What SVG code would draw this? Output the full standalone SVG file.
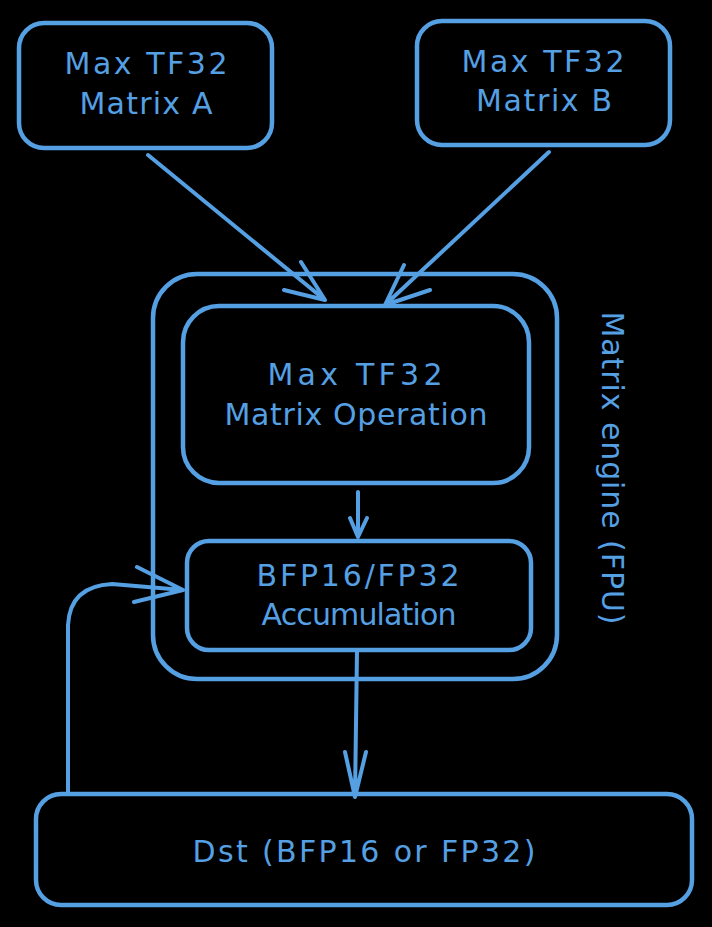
<svg xmlns="http://www.w3.org/2000/svg" width="712" height="927" viewBox="0 0 712 927">
<style>
.box{fill:none;stroke:#559fe3;stroke-width:4.5;stroke-linejoin:round}
.ln{fill:none;stroke:#559fe3;stroke-width:4;stroke-linecap:round;stroke-linejoin:round}
.t{font-family:"DejaVu Sans","Noto Sans",sans-serif;font-size:30px;fill:#559fe3;text-anchor:middle}
</style>
<rect width="712" height="927" fill="#000"/>
<g id="connectors">
<path class="ln" d="M148 155 L325 300 M284 290 L325 300 L301 262" stroke-width="5"/>
<path class="ln" d="M549 152 L385 305 M404 265 L385 305 L430 290"/>
<path class="ln" d="M358 492 L358 537 M350 518 L358 537 L367 518" stroke-width="3"/>
<path class="ln" d="M357 651 L355 797 M345 752 L355 797 L366 752" stroke-width="3.5"/>
<path class="ln" d="M68 792 L68 625 Q70 586 112 584 L183 590 M137 567 L183 590 L134 602"/>
</g>
<g id="matrixA">
<rect class="box" x="19" y="23" width="253" height="125" rx="25"/>
<text class="t" x="146" y="74" textLength="163">Max TF32</text>
<text class="t" x="146" y="114" textLength="133">Matrix A</text>
</g>
<g id="matrixB">
<rect class="box" x="417" y="21" width="253" height="124" rx="25"/>
<text class="t" x="543" y="72" textLength="163">Max TF32</text>
<text class="t" x="544" y="111" textLength="136">Matrix B</text>
</g>
<g id="engine">
<rect class="box" x="153" y="274" width="404" height="405" rx="44"/>
<text class="t" x="0" y="0" transform="translate(612 468) rotate(90)" dominant-baseline="central" textLength="313">Matrix engine (FPU)</text>
</g>
<g id="matrixOp">
<rect class="box" x="183" y="306" width="346" height="177" rx="36"/>
<text class="t" x="355" y="385" textLength="175">Max  TF32</text>
<text class="t" x="356" y="425" textLength="263">Matrix Operation</text>
</g>
<g id="accum">
<rect class="box" x="187" y="541" width="344" height="109" rx="22"/>
<text class="t" x="358" y="586" textLength="203">BFP16/FP32</text>
<text class="t" x="359" y="625" textLength="195">Accumulation</text>
</g>
<g id="dst">
<rect class="box" x="36" y="794" width="656" height="111" rx="25"/>
<text class="t" x="364" y="862" textLength="343">Dst (BFP16 or FP32)</text>
</g>
</svg>
